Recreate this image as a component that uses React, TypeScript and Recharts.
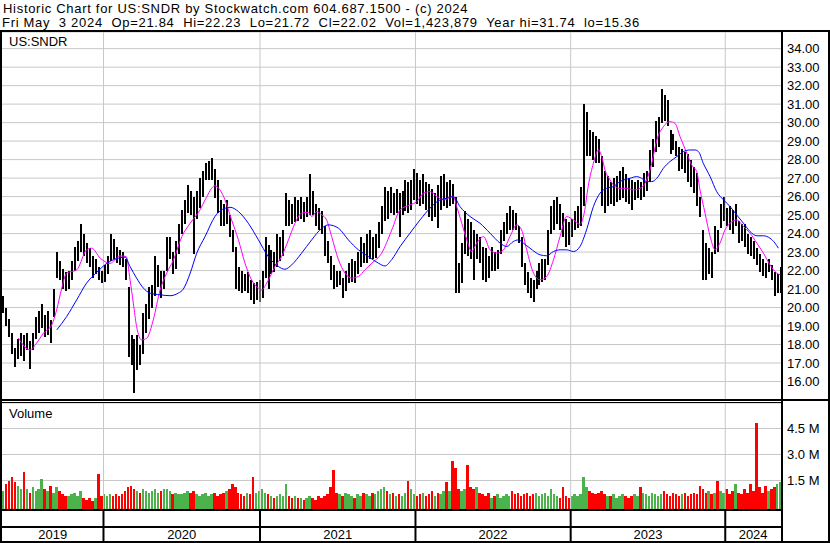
import {
  ComposedChart,
  Bar,
  Line,
  XAxis,
  YAxis,
  CartesianGrid,
  ReferenceLine,
  Cell,
} from 'recharts';

// weekly high / low, 2019-05-03 .. 2024-05-03
const priceHigh = [
  20.6, 20.0, 19.4, 18.6, 17.8, 18.3, 18.6, 18.5, 18.6, 18.2,
  18.6, 19.5, 19.8, 20.2, 19.6, 19.8, 19.3, 21.0, 23.0, 22.5,
  22.1, 21.9, 22.0, 22.5, 23.3, 23.6, 24.5, 24.0, 23.5, 23.2,
  22.8, 22.6, 22.2, 22.0, 22.3, 22.8, 24.0, 23.7, 23.3, 23.1,
  23.0, 22.6, 21.1, 18.5, 18.3, 18.5, 18.0, 19.7, 20.2, 21.1,
  21.2, 22.8, 22.3, 22.0, 22.0, 23.8, 23.8, 23.0, 23.6, 24.5,
  25.3, 25.8, 26.6, 26.3, 26.0, 26.3, 27.0, 27.4, 27.8, 27.9,
  28.1, 27.5, 26.9, 25.8, 25.6, 25.8, 25.0, 24.2, 23.3, 22.2,
  22.0, 21.8, 21.9, 21.5, 21.3, 21.4, 21.5, 22.0, 23.8, 23.4,
  23.1, 23.0, 24.0, 23.8, 24.2, 26.2, 25.8, 25.6, 26.0, 25.8,
  26.0, 25.7, 26.0, 27.2, 26.3, 25.6, 25.4, 25.2, 24.4, 23.6,
  22.8, 22.3, 22.0, 22.0, 21.6, 22.0, 22.4, 22.6, 22.5, 23.0,
  23.8, 23.5, 24.0, 24.2, 23.8, 24.0, 24.6, 25.5, 26.5, 26.3,
  26.5, 26.2, 26.4, 26.2, 26.3, 26.9, 26.8, 26.9, 27.5, 27.3,
  26.9, 27.2, 26.8, 26.7, 26.4, 26.2, 26.6, 27.1, 27.2, 26.8,
  26.9, 26.7, 26.0, 22.4, 23.5, 25.2, 24.8, 24.6, 24.2, 24.0,
  23.8, 23.3, 23.2, 22.8, 23.3, 23.0, 23.1, 24.2, 24.6, 25.1,
  25.5, 25.3, 25.1, 24.4, 23.8, 22.4, 21.9, 21.6, 21.5, 22.0,
  22.4, 22.6, 22.6, 24.2, 25.5, 25.8, 26.0, 25.6, 25.1, 24.8,
  24.6, 24.8, 25.2, 25.5, 26.5, 31.0, 30.6, 29.6, 29.5, 29.3,
  29.1, 28.2, 27.4, 27.1, 26.8, 27.0, 27.1, 27.4, 27.6, 27.2,
  27.0, 26.9, 26.8, 26.9, 26.8, 27.3, 27.4, 28.5, 29.1, 30.1,
  30.3, 31.8, 31.5, 31.2, 29.6, 29.4, 29.0, 28.7, 28.6, 28.4,
  28.3, 28.0, 27.6, 27.3, 26.0, 24.2, 23.5, 23.2, 23.0, 24.4,
  24.2, 25.6, 26.0, 25.4, 25.5, 25.3, 25.6, 24.7, 24.5, 24.5,
  24.0, 23.8, 23.6, 23.2, 22.9, 22.6, 22.4, 22.6, 22.3, 21.9,
  21.8, 22.2,
];

const priceLow = [
  19.7, 19.0, 18.4, 17.5, 16.8, 17.2, 17.4, 17.1, 17.7, 16.7,
  17.7, 18.3, 18.6, 18.9, 18.4, 18.5, 18.1, 19.5, 21.6, 21.5,
  21.0, 20.9, 21.0, 21.5, 22.0, 22.5, 23.0, 22.8, 22.4, 22.2,
  21.6, 21.8, 21.5, 21.3, 21.4, 21.8, 22.5, 22.6, 22.4, 22.3,
  22.2, 21.5, 17.3, 16.9, 15.4, 16.6, 16.9, 17.5, 18.6, 19.4,
  20.0, 20.6, 21.1, 20.5, 21.0, 22.0, 22.6, 21.8, 22.1, 22.9,
  24.0, 24.5, 25.1, 25.0, 22.9, 24.8, 25.4, 26.0, 26.9, 26.9,
  26.9, 25.9, 25.1, 24.4, 24.4, 24.5, 23.8, 23.0, 21.0, 20.9,
  20.8, 20.9, 20.8, 20.4, 20.2, 20.4, 20.3, 20.5, 21.6, 21.0,
  21.8, 21.9, 22.2, 22.5, 22.8, 24.4, 24.4, 24.5, 24.6, 24.7,
  24.8, 24.6, 24.9, 25.0, 25.0, 24.4, 24.2, 24.0, 22.8, 22.4,
  21.5, 21.0, 21.1, 21.2, 20.5, 20.9, 21.3, 21.4, 21.3, 21.8,
  22.2, 22.4, 22.4, 22.6, 22.6, 22.7, 23.2, 24.0, 24.7, 24.8,
  25.1, 25.0, 25.1, 23.8, 25.0, 25.2, 25.1, 25.3, 25.8, 25.6,
  25.5, 25.6, 25.3, 24.9, 24.7, 24.9, 24.3, 25.3, 25.5, 25.4,
  25.5, 25.6, 20.8, 20.8, 21.3, 22.9, 22.8, 22.6, 21.5, 22.6,
  22.4, 21.5, 21.4, 21.6, 22.0, 22.0, 22.1, 22.9, 23.6, 24.0,
  24.2, 24.2, 24.2, 23.5, 22.2, 21.2, 20.8, 20.5, 20.3, 21.0,
  21.2, 21.4, 21.5, 22.3, 24.0, 24.2, 24.5, 24.2, 23.8, 23.3,
  23.4, 23.8, 24.2, 24.3, 24.4, 25.5, 28.2, 28.2, 28.0, 27.8,
  27.8, 25.5, 25.1, 25.5, 25.6, 25.5, 25.7, 25.8, 25.9, 25.7,
  25.6, 25.3, 25.8, 25.9, 25.8, 26.0, 26.3, 26.8, 27.6, 28.4,
  28.7, 30.0, 30.1, 29.8, 28.3, 28.5, 28.2, 27.4, 27.5, 27.3,
  26.8, 26.5, 26.2, 25.5, 24.9, 21.5, 21.5, 21.8, 21.6, 22.9,
  23.0, 24.3, 24.7, 24.4, 24.2, 24.0, 24.4, 23.5, 23.6, 23.3,
  22.9, 22.8, 22.6, 22.3, 21.9, 21.7, 21.6, 21.9, 21.5, 20.6,
  20.8, 20.8,
];

// typical daily volume for each week, millions of shares
const volumeM = [
  0.9, 1.3, 1.5, 1.7, 1.4, 1.2, 1.0, 2.0, 1.0, 0.8,
  1.1, 0.9, 1.0, 1.6, 1.0, 0.9, 1.2, 0.8, 1.1, 0.9,
  0.7, 0.6, 0.6, 0.7, 0.8, 0.6, 0.9, 0.5, 0.4, 0.5,
  0.3, 0.5, 1.9, 0.6, 0.7, 0.6, 0.7, 0.6, 0.7, 0.6,
  0.7, 0.9, 1.1, 1.2, 1.0, 0.9, 0.8, 1.0, 0.9, 0.8,
  0.9, 1.0, 0.8, 0.9, 1.0, 1.0, 0.9, 0.7, 0.8, 0.7,
  0.7, 0.8, 0.9, 0.8, 0.9, 0.7, 0.6, 0.7, 0.8, 0.6,
  0.7, 0.8, 0.6, 0.7, 0.8, 0.9, 1.0, 1.3, 1.1, 0.8,
  0.7, 0.6, 0.8, 0.7, 1.7, 0.8, 0.9, 1.0, 0.8, 0.7,
  0.6, 0.5, 0.6, 0.7, 0.6, 1.3, 0.6, 0.5, 0.6, 0.5,
  0.5, 0.4, 0.5, 0.6, 0.5, 0.4, 0.6, 0.5, 0.6, 0.7,
  1.1, 2.1, 0.8, 0.7, 0.6, 0.8, 0.7, 0.6, 0.5, 0.7,
  0.6, 0.8, 0.7, 0.6, 0.8, 0.7, 0.9, 1.0, 1.1, 0.9,
  0.7, 0.8, 0.6, 0.7, 0.6, 0.8, 1.5, 1.0, 0.7, 0.6,
  0.7, 0.8, 0.6, 0.7, 0.9, 0.6, 0.8, 0.7, 0.9, 1.4,
  0.9, 2.6, 2.2, 1.0, 0.9, 1.0, 2.4, 1.1, 1.0, 1.1,
  0.8, 0.7, 0.6, 0.8, 0.5, 0.6, 0.7, 0.5, 0.6, 0.7,
  0.6, 0.9, 0.7, 0.8, 0.6, 0.7, 0.8, 0.6, 0.7, 0.8,
  0.6, 0.7, 0.8, 0.6, 1.0, 0.7, 0.6, 0.5, 1.1, 0.6,
  0.5, 0.6, 0.7, 0.6, 0.7, 1.7, 1.1, 0.9, 0.8, 0.7,
  0.8, 0.9, 0.7, 0.6, 0.6, 0.7, 0.5, 0.6, 0.7, 0.6,
  0.5, 0.6, 0.7, 0.6, 1.1, 0.8, 0.7, 0.6, 0.8, 0.7,
  0.6, 0.7, 0.9, 0.7, 0.6, 0.8, 0.7, 0.6, 0.7, 0.8,
  0.6, 0.7, 0.8, 0.7, 1.2, 1.0, 0.8, 0.9, 0.7, 0.8,
  1.5, 0.9, 0.8, 1.0, 0.7, 0.9, 1.3, 0.8, 0.7, 1.0,
  0.8, 1.3, 0.9, 4.8, 1.1, 0.8, 1.2, 0.9, 1.0, 1.1,
  1.3, 1.4,
];

// [week position, value] samples of the two moving averages
const fastMa = [
  [5.5, 18.35], [9.4, 17.71], [11.6, 18.07], [13.9, 18.61], [16.7, 19.06],
  [18.4, 19.9], [20, 21.0], [21.7, 21.86], [25.1, 22.04], [28.4, 23.12],
  [30.1, 23.21], [33, 22.67], [36.3, 22.39], [39.6, 22.79], [41.7, 22.76],
  [43, 21.5], [44.1, 20.24], [45.2, 18.97], [46.9, 18.25], [48.6, 18.34],
  [50.8, 19.33], [53.1, 20.95], [55.3, 21.86], [57.6, 22.58], [60.4, 23.84],
  [63.2, 24.56], [66.5, 25.28], [68.2, 25.82], [71.5, 26.58], [73.2, 26.36],
  [74.9, 25.82], [77.1, 24.74], [79.4, 23.66], [81.6, 22.4], [83.8, 21.5],
  [86.1, 21.05], [87.2, 20.95], [88.9, 21.32], [91.7, 22.22], [93.9, 22.76],
  [96.2, 23.66], [98.4, 24.56], [100.6, 25.1], [102.9, 25.14], [104, 24.92],
  [105.7, 25.19], [107.4, 25.01], [109, 24.74], [110.7, 23.84], [113, 22.58],
  [115.2, 21.86], [117.4, 21.59], [119.7, 21.68], [121.9, 22.04], [124.2, 22.4],
  [127.5, 22.94], [130.9, 24.2], [133.7, 25.28], [137, 25.55], [139.3, 25.73],
  [141.5, 26.18], [143.7, 26.27], [146, 26.0], [148.2, 25.82], [151.6, 26.0],
  [152.7, 25.46], [154.4, 24.56], [156.1, 23.66], [157.7, 23.03], [159.4, 23.48],
  [161.7, 23.84], [163.9, 23.12], [166.1, 22.94], [168.4, 23.12], [170.6, 23.84],
  [172.9, 24.47], [174.5, 24.2], [176.2, 23.12], [178.5, 21.86], [180.7, 21.5],
  [182.9, 21.68], [185.2, 22.58], [187.4, 23.84], [189.6, 24.92], [191.9, 24.74],
  [194.1, 24.5], [195.5, 25.1], [196.9, 26.6], [198.6, 27.8], [200.3, 28.52],
  [201.4, 28.16], [202.5, 27.44], [204.2, 26.9], [205.9, 26.54], [207.5, 26.45],
  [209.8, 26.45], [212, 26.36], [214.3, 26.45], [216.5, 26.9], [218.2, 27.8],
  [219.9, 29.06], [222.1, 29.78], [224.3, 30.05], [226, 29.96], [227.7, 29.24],
  [230, 28.34], [231.6, 27.71], [233.3, 27.35], [234.4, 26.36], [236.1, 25.1],
  [237.8, 23.84], [239.5, 23.12], [241.1, 23.48], [242.8, 24.2], [244.5, 24.56],
  [246.7, 24.74], [249, 24.38], [251.2, 24.02], [253.5, 23.48], [255.7, 22.94],
  [257.9, 22.31], [260.2, 21.86], [261.3, 21.77],
];

const slowMa = [
  [18.4, 18.79], [21.7, 19.51], [25.1, 20.42], [28.4, 21.32], [31.8, 21.9],
  [35.2, 22.39], [38.5, 22.65], [41.3, 22.72], [43, 22.22], [45.2, 21.59],
  [47.5, 21.05], [49.7, 20.78], [53.1, 20.69], [56.4, 20.64], [59.2, 20.78],
  [60.9, 21.0], [63.2, 21.86], [65.4, 22.94], [68.2, 23.84], [71.5, 24.92],
  [74.9, 25.37], [76.6, 25.42], [79.4, 25.19], [82.7, 24.56], [86.1, 23.66],
  [89.4, 22.76], [92.8, 22.22], [95, 22.07], [97.3, 22.31], [100.6, 22.94],
  [104, 23.66], [107.4, 24.29], [109.6, 24.47], [113, 24.29], [116.3, 23.66],
  [119.7, 23.12], [123, 22.76], [126.4, 22.4], [128.6, 22.25], [130.9, 22.6],
  [133.7, 23.3], [137, 24.02], [140.4, 24.74], [143.7, 25.37], [147.1, 25.82],
  [149.3, 25.91], [151.6, 26.0], [153.8, 25.46], [157.2, 24.92], [160.5, 24.56],
  [163.9, 24.02], [167.3, 23.48], [169.5, 23.3], [171.7, 23.57], [173.4, 23.66],
  [175.1, 23.48], [177.3, 23.21], [180.7, 22.85], [182.9, 22.8], [185.2, 23.03],
  [187.4, 23.12], [189.6, 23.12], [191.9, 23.03], [194.1, 23.3], [196.3, 24.2],
  [198.6, 25.46], [200.8, 26.18], [203.1, 26.45], [205.3, 26.54], [207.5, 26.81],
  [210.9, 26.99], [213.1, 27.08], [214.8, 26.99], [216.5, 26.81], [218.2, 26.81],
  [219.9, 26.99], [222.1, 27.53], [224.3, 27.89], [226.6, 28.16], [228.8, 28.43],
  [231.1, 28.52], [232.7, 28.52], [233.9, 28.43], [235.5, 27.8], [237.8, 27.08],
  [240, 26.27], [242.3, 25.82], [244.5, 25.46], [246.7, 25.01], [249, 24.56],
  [251.2, 24.11], [253.5, 23.88], [255.7, 23.88], [257.9, 23.75], [259.6, 23.48],
  [260.7, 23.21],
];

const yearStartWeeks = [34.08, 86.64, 138.85, 190.97, 242.88];
const yearLabels = ['2019', '2020', '2021', '2022', '2023', '2024'];
const priceTicks = [16, 17, 18, 19, 20, 21, 22, 23, 24, 25, 26, 27, 28, 29, 30, 31, 32, 33, 34];
const volumeTicks = [1.5, 3.0, 4.5];

const weekDomain: [number, number] = [0, 261.6];
const priceDomain: [number, number] = [15, 34.9];
const volumeDomain: [number, number] = [-0.144, 5.971];

const FONT = '"Liberation Sans", Arial, sans-serif';
const GRID = '#c8c8c8';
const UP = '#4cb34c';
const DOWN = '#ff0000';
const NBSP2 = '\u00a0 ';

const rows = priceHigh.map((hi, i) => {
  const lo = priceLow[i];
  const mid = (hi + lo) / 2;
  const prevMid = i > 0 ? (priceHigh[i - 1] + priceLow[i - 1]) / 2 : mid;
  return {
    w: i + 0.5,
    range: [lo, hi],
    vol: [volumeDomain[0], volumeM[i]],
    up: mid >= prevMid,
  };
});

const fastRows = fastMa.map(([w, v]) => ({ w, v }));
const slowRows = slowMa.map(([w, v]) => ({ w, v }));

// year label sits in the middle of its (visible) year segment
const edges = [weekDomain[0], ...yearStartWeeks, weekDomain[1]];
const labelCenters = yearLabels.map((_, i) => (edges[i] + edges[i + 1]) / 2);
const xTicks = [...yearStartWeeks, ...labelCenters];

const quote = [
  'Fri May', '3 2024', 'Op=21.84', 'Hi=22.23', 'Lo=21.72',
  'Cl=22.02', 'Vol=1,423,879', 'Year hi=31.74', 'lo=15.36',
];

function AxisLabel(props: any) {
  const { x, y, payload, fmt } = props;
  return (
    <text x={x} y={y} dy="0.36em" textAnchor="start" fontSize={13} fontFamily={FONT} fill="#000">
      {fmt(payload.value)}
    </text>
  );
}

function YearTick(props: any) {
  const { x, payload } = props;
  const v = payload.value;
  if (yearStartWeeks.includes(v)) {
    return <line x1={x} x2={x} y1={110} y2={141} stroke="#000" strokeWidth={2} />;
  }
  const idx = labelCenters.indexOf(v);
  return (
    <text x={x} y={139} textAnchor="middle" fontSize={13} fontFamily={FONT} fill="#000">
      {yearLabels[idx]}
    </text>
  );
}

function PriceBar(props: any) {
  const { x, y, width, height } = props;
  if (!height) return null;
  return (
    <rect
      x={x + width / 2 - 1}
      y={y}
      width={2}
      height={Math.max(height, 1)}
      fill="#000"
      shapeRendering="crispEdges"
    />
  );
}

function VolumeBar(props: any) {
  const { x, y, width, height, fill } = props;
  if (!height) return null;
  return (
    <rect
      x={x + width / 2 - 1.25}
      y={y}
      width={2.5}
      height={height}
      fill={fill}
      shapeRendering="crispEdges"
    />
  );
}

function Frame() {
  const k = '#000';
  const head = { fontSize: 13, fontFamily: FONT, fill: '#000', letterSpacing: 0.7 };
  return (
    <svg
      width={830}
      height={543}
      style={{ position: 'absolute', left: 0, top: 0, pointerEvents: 'none' }}
    >
      <text x={3} y={13} {...head}>
        Historic Chart for US:SNDR by Stockwatch.com 604.687.1500 - (c) 2024
      </text>
      <text x={2} y={27} {...head}>
        {quote.join(NBSP2)}
      </text>
      <text x={9} y={46} fontSize={13} fontFamily={FONT} fill="#000">US:SNDR</text>
      <text x={9} y={418} fontSize={13} fontFamily={FONT} fill="#000">Volume</text>
      <rect x={0} y={30} width={830} height={2} fill={k} />
      <rect x={0} y={30} width={2} height={513} fill={k} />
      <rect x={781} y={30} width={2} height={513} fill={k} />
      <rect x={828} y={30} width={2} height={513} fill={k} />
      <rect x={0} y={399} width={830} height={2} fill={k} />
      <rect x={0} y={402} width={781} height={1} fill={k} />
      <rect x={0} y={509} width={781} height={2} fill={k} />
      <rect x={0} y={526} width={781} height={2} fill={k} />
      <rect x={0} y={541} width={830} height={2} fill={k} />
    </svg>
  );
}

export default function App() {
  return (
    <div
      style={{
        position: 'absolute',
        left: 0,
        top: 0,
        width: 830,
        height: 543,
        background: '#fff',
        overflow: 'hidden',
      }}
    >
      <div style={{ position: 'absolute', left: 0, top: 0 }}>
        <ComposedChart
          width={830}
          height={401}
          data={rows}
          margin={{ top: 32, right: 0, bottom: 1, left: 2 }}
        >
          <CartesianGrid horizontal vertical={false} stroke={GRID} />
          <XAxis
            type="number"
            dataKey="w"
            domain={weekDomain}
            allowDataOverflow
            hide
          />
          <YAxis
            orientation="right"
            width={49}
            domain={priceDomain}
            allowDataOverflow
            ticks={priceTicks}
            interval={0}
            axisLine={false}
            tickLine={false}
            tickSize={0}
            tickMargin={6}
            tick={<AxisLabel fmt={(v: number) => v.toFixed(2)} />}
          />
          {yearStartWeeks.map((b) => (
            <ReferenceLine key={b} x={b} stroke={GRID} strokeWidth={1} />
          ))}
          <Bar
            dataKey="range"
            barSize={2}
            fill="#000"
            shape={<PriceBar />}
            isAnimationActive={false}
          />
          <Line
            data={fastRows}
            dataKey="v"
            type="monotone"
            stroke="#ff00ff"
            strokeWidth={1}
            dot={false}
            isAnimationActive={false}
          />
          <Line
            data={slowRows}
            dataKey="v"
            type="monotone"
            stroke="#0000ff"
            strokeWidth={1}
            dot={false}
            isAnimationActive={false}
          />
        </ComposedChart>
      </div>
      <div style={{ position: 'absolute', left: 0, top: 400 }}>
        <ComposedChart
          width={830}
          height={143}
          data={rows}
          margin={{ top: 3, right: 0, bottom: 0, left: 2 }}
        >
          <CartesianGrid horizontal vertical={false} stroke={GRID} />
          <XAxis
            type="number"
            dataKey="w"
            domain={weekDomain}
            allowDataOverflow
            ticks={xTicks}
            interval={0}
            height={34}
            axisLine={false}
            tickLine={false}
            tick={<YearTick />}
          />
          <YAxis
            orientation="right"
            width={49}
            domain={volumeDomain}
            allowDataOverflow
            ticks={volumeTicks}
            interval={0}
            axisLine={false}
            tickLine={false}
            tickSize={0}
            tickMargin={6}
            tick={<AxisLabel fmt={(v: number) => `${v.toFixed(1)} M`} />}
          />
          {yearStartWeeks.map((b) => (
            <ReferenceLine key={b} x={b} stroke={GRID} strokeWidth={1} />
          ))}
          <Bar dataKey="vol" barSize={2} shape={<VolumeBar />} isAnimationActive={false}>
            {rows.map((r, i) => (
              <Cell key={i} fill={r.up ? UP : DOWN} />
            ))}
          </Bar>
        </ComposedChart>
      </div>
      <Frame />
    </div>
  );
}
